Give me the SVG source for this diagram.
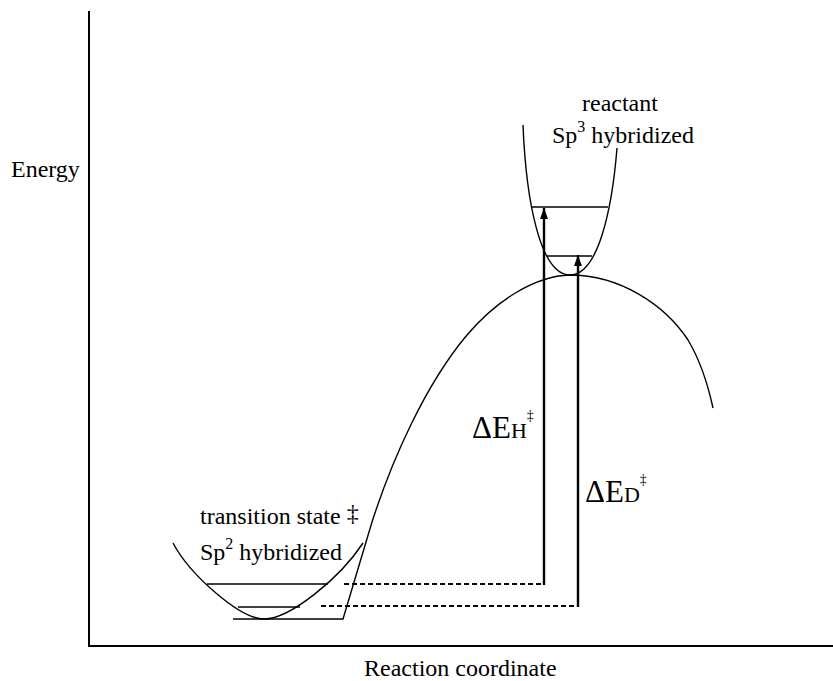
<svg xmlns="http://www.w3.org/2000/svg" width="833" height="681" viewBox="0 0 833 681">
<style>
  text { font-family: 'Liberation Serif', 'Times New Roman', serif; fill: #000; }
  .lbl { font-size: 24px; }
  .big { font-size: 31px; }
  .curve { fill: none; stroke: #000; stroke-width: 1.4; }
  .axis { fill: none; stroke: #000; stroke-width: 2; }
  .arrow { fill: none; stroke: #000; stroke-width: 2.4; marker-end: url(#head); }
  .dash { fill: none; stroke: #000; stroke-width: 2; stroke-dasharray: 5 3; }
</style>
<defs>
  <marker id="head" markerUnits="userSpaceOnUse" markerWidth="12" markerHeight="10" refX="11" refY="4" orient="auto">
    <path d="M0,0 L11,4 L0,8 Z" fill="#000"/>
  </marker>
</defs>
<rect width="833" height="681" fill="#fff"/>
<g id="axes">
  <path class="axis" d="M89,11 L89,646 L833,646"/>
  <text class="lbl" x="11" y="177">Energy</text>
  <text class="lbl" x="364" y="676">Reaction coordinate</text>
</g>
<g id="surface">
  <path class="curve" d="M233,619 L343,619 L372,522 C392,460 425,385 467,335 C497,300 535,276 570,275 C620,275 665,305 688,340 C700,360 708,385 713,408"/>
</g>
<g id="reactant">
  <path class="curve" d="M523,125 C526,200 540,275 570,275 C598,275 612,210 617,148"/>
  <line class="curve" x1="532" y1="207" x2="608" y2="207"/>
  <line class="curve" x1="547" y1="256" x2="592" y2="256"/>
  <text class="lbl" x="582" y="111">reactant</text>
  <text class="lbl" x="552" y="143">Sp<tspan font-size="16" dy="-11">3</tspan><tspan dy="11"> hybridized</tspan></text>
</g>
<g id="transition-state">
  <path class="curve" d="M173,543 C190,575 240,619 264,619 C290,619 340,578 363,543"/>
  <line class="curve" x1="207" y1="584" x2="328" y2="584"/>
  <line class="curve" x1="238" y1="607" x2="300" y2="607"/>
  <text class="lbl" x="200" y="524">transition state <tspan font-size="24" dy="-3">‡</tspan></text>
  <text class="lbl" x="200" y="560">Sp<tspan font-size="16" dy="-11">2</tspan><tspan dy="11"> hybridized</tspan></text>
</g>
<g id="connectors">
  <path class="dash" d="M344,584 L544,584"/>
  <path class="dash" d="M321,606 L578,606"/>
  <path class="arrow" d="M544,585 L544,208"/>
  <path class="arrow" d="M578,607 L578,255"/>
</g>
<g id="labels">
  <text class="big" x="472" y="438">ΔE<tspan font-size="22">H</tspan><tspan font-size="14" dy="-18">‡</tspan></text>
  <text class="big" x="585" y="502">ΔE<tspan font-size="22">D</tspan><tspan font-size="14" dy="-18">‡</tspan></text>
</g>
</svg>
